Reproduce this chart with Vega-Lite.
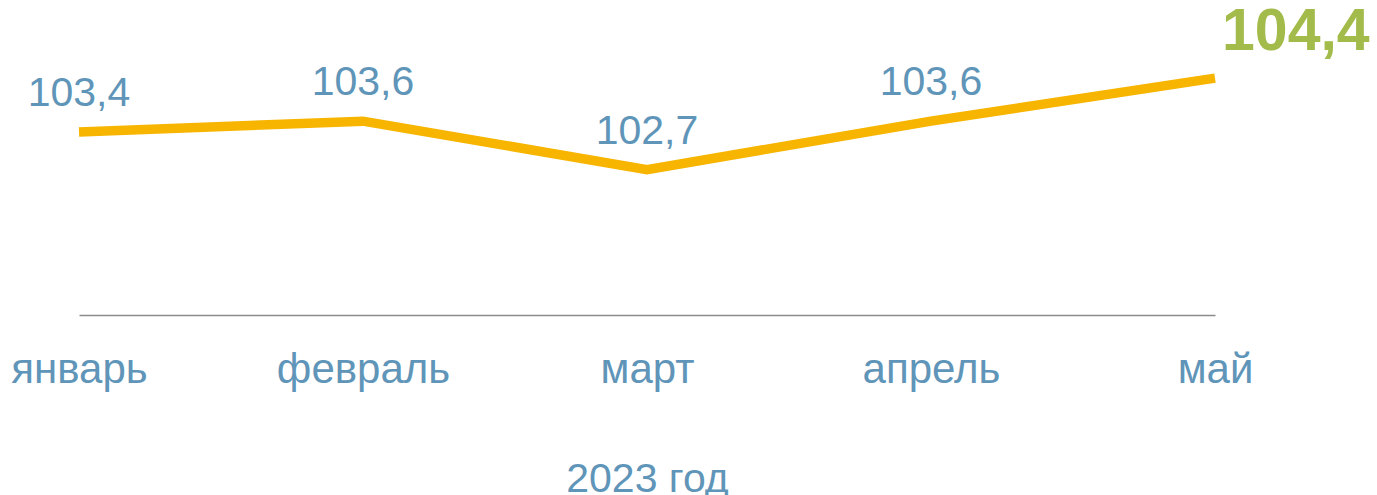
{
  "$schema": "https://vega.github.io/schema/vega-lite/v6.json",
  "width": 1136,
  "height": 315,
  "autosize": {"type": "none"},
  "padding": {"left": 79, "top": 0, "right": 162, "bottom": 180},
  "background": "white",
  "config": {"view": {"stroke": null}, "font": "Liberation Sans"},
  "data": {
    "values": [
      {"month": "январь", "value": 103.4, "label": "103,4", "last": false},
      {"month": "февраль", "value": 103.6, "label": "103,6", "last": false},
      {"month": "март", "value": 102.7, "label": "102,7", "last": false},
      {"month": "апрель", "value": 103.6, "label": "103,6", "last": false},
      {"month": "май", "value": 104.4, "label": "104,4", "last": true}
    ]
  },
  "encoding": {
    "x": {
      "field": "month",
      "type": "ordinal",
      "sort": null,
      "scale": {"type": "point", "padding": 0},
      "axis": {
        "title": "2023 год",
        "labelAngle": 0,
        "labelFont": "Liberation Sans",
        "labelFontSize": 42,
        "labelColor": "#5f95b8",
        "labelBaseline": "alphabetic",
        "labelPadding": 67,
        "ticks": false,
        "tickSize": 0,
        "grid": false,
        "domainColor": "#8c8c8c",
        "domainWidth": 1.5,
        "titleFont": "Liberation Sans",
        "titleFontSize": 41,
        "titleFontWeight": "normal",
        "titleColor": "#5f95b8",
        "titleBaseline": "alphabetic",
        "titleY": 176
      }
    },
    "y": {
      "field": "value",
      "type": "quantitative",
      "scale": {"domain": [100, 105.85], "zero": false, "nice": false},
      "axis": null
    }
  },
  "layer": [
    {
      "mark": {"type": "line", "color": "#f7b500", "strokeWidth": 9.5, "strokeCap": "butt", "strokeJoin": "miter"}
    },
    {
      "transform": [{"filter": "!datum.last"}],
      "mark": {"type": "text", "align": "center", "baseline": "alphabetic", "dy": -26, "fontSize": 41, "font": "Liberation Sans", "color": "#5f95b8"},
      "encoding": {"text": {"field": "label"}}
    },
    {
      "transform": [{"filter": "datum.last"}],
      "mark": {"type": "text", "align": "left", "baseline": "alphabetic", "dx": 7, "dy": -28, "fontSize": 59, "fontWeight": "bold", "font": "Liberation Sans", "color": "#a2bb4a"},
      "encoding": {"text": {"field": "label"}}
    }
  ]
}
